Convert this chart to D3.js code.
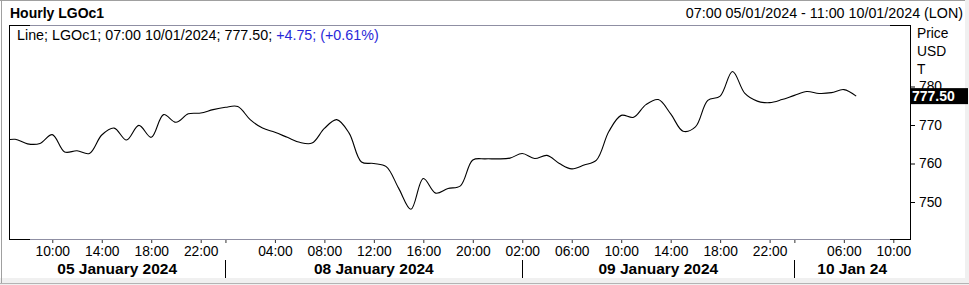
<!DOCTYPE html>
<html>
<head>
<meta charset="utf-8">
<script src="https://cdn.jsdelivr.net/npm/d3@7"></script>
<style>
  body { margin: 0; background: #fff; font-family: "Liberation Sans", Arial, sans-serif; }
  svg { display: block; }
</style>
</head>
<body>
<div id="chart"></div>
<script>
// ====================
// Data
// ====================
const instrument = "LGOc1";

// trading sessions: which hours have an hourly bar on each calendar day
const sessionDays  = ["2024-01-05", "2024-01-07", "2024-01-08", "2024-01-09", "2024-01-10"];
const sessionFirst = [6, 23, 0, 1, 1];
const sessionLast  = [22, 23, 22, 22, 11];

const viewStart = "2024-01-05 07:00";
const viewEnd   = "2024-01-10 11:00";

// hourly closes, 06:00 05/01 -> 07:00 10/01
const prices = [
  765.8, 766.3, 765.1, 765.2, 767.5, 763.0, 763.3, 762.6, 767.4, 769.2,
  766.1, 769.9, 766.8, 772.7, 770.7, 772.9, 773.1, 774.0, 774.6, 774.8,
  771.4, 769.2, 768.1, 766.8, 765.5, 765.3, 769.1, 771.4, 767.9, 760.4,
  760.0, 759.2, 753.6, 748.1, 756.1, 752.3, 753.5, 754.2, 760.9, 761.2,
  761.2, 761.4, 762.6, 761.3, 762.1, 760.0, 758.6, 759.6, 760.9, 768.3,
  772.5, 772.0, 775.3, 776.6, 772.9, 768.4, 769.5, 776.4, 777.5, 783.9,
  778.2, 776.2, 775.8, 776.6, 777.7, 778.7, 778.2, 778.4, 779.2, 777.5
];
const change    = 4.75;
const changePct = 0.61;

// x axis ticks
const tickTimes = [
  "2024-01-05 10:00", "2024-01-05 14:00", "2024-01-05 18:00", "2024-01-05 22:00",
  "2024-01-08 00:00", "2024-01-08 04:00", "2024-01-08 08:00", "2024-01-08 12:00",
  "2024-01-08 16:00", "2024-01-08 20:00",
  "2024-01-09 02:00", "2024-01-09 06:00", "2024-01-09 10:00", "2024-01-09 14:00",
  "2024-01-09 18:00", "2024-01-09 22:00",
  "2024-01-10 02:00", "2024-01-10 06:00", "2024-01-10 10:00"
];
const unlabelledTicks = ["2024-01-08 00:00", "2024-01-10 02:00"];
const dayDividers = ["2024-01-08 00:00", "2024-01-09 02:00", "2024-01-10 02:00"];
const dayLabels   = ["05 January 2024", "08 January 2024", "09 January 2024", "10 Jan 24"];

// y axis
const yTicks = [750, 760, 770, 780];
const yUnits = ["Price", "USD", "T"];

// ====================
// Build chart
// ====================
const width = 969, height = 285;
const plot = { left: 9, right: 910, top: 25, bottom: 239 };
const font = '"Liberation Sans", Arial, sans-serif';
const frameGrey = "#8f8fa3";

const pad2 = n => String(n).padStart(2, "0");
const bars = [];
sessionDays.forEach((day, i) => {
  for (let h = sessionFirst[i]; h <= sessionLast[i]; h++) bars.push(`${day} ${pad2(h)}:00`);
});
const barIndex = new Map(bars.map((b, i) => [b, i]));
const data = prices.map((p, i) => ({ time: bars[i], i, price: p }));

const svg = d3.select("#chart").append("svg")
  .attr("width", width)
  .attr("height", height)
  .style("font-family", font);

// window chrome
svg.append("rect").attr("x", 0).attr("y", 278).attr("width", width).attr("height", 7).attr("fill", "#f0f0f0");
svg.append("rect").attr("x", 965).attr("y", 0).attr("width", 4).attr("height", height).attr("fill", "#f0f0f0");
svg.append("line").attr("x1", 1.5).attr("x2", 1.5).attr("y1", 0).attr("y2", 283).attr("stroke", "#a0a0a0");
svg.append("line").attr("x1", 0).attr("x2", 965).attr("y1", 0.5).attr("y2", 0.5).attr("stroke", "#a0a0a0");
svg.append("line").attr("x1", 0).attr("x2", width).attr("y1", 283.5).attr("y2", 283.5).attr("stroke", "#b4b4b4");

// scales
const x = d3.scaleLinear()
  .domain([barIndex.get(viewStart) - 0.5, barIndex.get(viewEnd) + 0.35])
  .range([plot.left, plot.right]);

const y = d3.scaleLinear()
  .domain([750, 770])
  .range([202, 125]);

// header texts
svg.append("text")
  .attr("x", 10).attr("y", 18)
  .attr("font-size", 14).attr("font-weight", "bold")
  .text(`Hourly ${instrument}`);

svg.append("text")
  .attr("x", 963).attr("y", 18)
  .attr("text-anchor", "end")
  .attr("font-size", 14.3)
  .text("07:00 05/01/2024 - 11:00 10/01/2024 (LON)");

// frame: grey sides with black corners
const frame = svg.append("g").attr("shape-rendering", "crispEdges");
[plot.top, plot.bottom].forEach(yy => {
  frame.append("line").attr("x1", plot.left).attr("x2", plot.right).attr("y1", yy + 0.5).attr("y2", yy + 0.5)
    .attr("stroke", frameGrey);
  frame.append("line").attr("x1", plot.left).attr("x2", plot.left + 21).attr("y1", yy + 0.5).attr("y2", yy + 0.5)
    .attr("stroke", "#000");
  frame.append("line").attr("x1", plot.right - 20).attr("x2", plot.right + 1).attr("y1", yy + 0.5).attr("y2", yy + 0.5)
    .attr("stroke", "#000");
});
[plot.left, plot.right].forEach(xx => {
  frame.append("line").attr("x1", xx + 0.5).attr("x2", xx + 0.5).attr("y1", plot.top).attr("y2", plot.bottom + 1)
    .attr("stroke", "#000");
});

// legend line
const last = data[data.length - 1];
const [ld, lt] = last.time.split(" ");
const [yy, mm, dd] = ld.split("-");
const legend = svg.append("text")
  .attr("x", 17).attr("y", 40)
  .attr("font-size", 14.3);
legend.append("tspan").attr("fill", "#000")
  .text(`Line; ${instrument}; ${lt} ${dd}/${mm}/${yy}; ${last.price.toFixed(2)}; `);
legend.append("tspan").attr("fill", "#2828d8")
  .text(`+${change.toFixed(2)}; (+${changePct.toFixed(2)}%)`);

// price line
svg.append("clipPath").attr("id", "plot-clip")
  .append("rect")
  .attr("x", plot.left + 1).attr("y", plot.top + 1)
  .attr("width", plot.right - plot.left - 1).attr("height", plot.bottom - plot.top - 1);

const line = d3.line()
  .x(d => x(d.i))
  .y(d => y(d.price))
  .curve(d3.curveCatmullRom);

svg.append("path")
  .datum(data)
  .attr("clip-path", "url(#plot-clip)")
  .attr("fill", "none")
  .attr("stroke", "#000")
  .attr("stroke-width", 1.1)
  .attr("d", line);

// x axis (hour ticks)
const xAxis = d3.axisBottom(x)
  .tickValues(tickTimes.map(t => barIndex.get(t)))
  .tickSize(3)
  .tickPadding(3)
  .tickFormat((d, i) => unlabelledTicks.includes(tickTimes[i]) ? "" : tickTimes[i].slice(11));

const gx = svg.append("g")
  .attr("transform", `translate(0, ${plot.bottom + 1})`)
  .call(xAxis);
gx.select(".domain").remove();
gx.selectAll("line").attr("stroke", "#333");
gx.selectAll("text").attr("font-size", 13.8).attr("font-family", font).attr("fill", "#000");

// day row
const dividerX = dayDividers.map(t => x(barIndex.get(t)));
const edges = [plot.left, ...dividerX, plot.right];

svg.append("g").selectAll("line")
  .data(dividerX)
  .join("line")
  .attr("x1", d => Math.round(d) + 0.5).attr("x2", d => Math.round(d) + 0.5)
  .attr("y1", 260).attr("y2", 278)
  .attr("stroke", "#000");

svg.append("g").selectAll("text")
  .data(dayLabels)
  .join("text")
  .attr("x", (d, i) => (edges[i] + edges[i + 1]) / 2)
  .attr("y", 274)
  .attr("text-anchor", "middle")
  .attr("font-size", 15.5)
  .attr("font-weight", "bold")
  .text(d => d);

// y axis (right side)
const yAxis = d3.axisRight(y)
  .tickValues(yTicks)
  .tickSize(4)
  .tickPadding(4)
  .tickFormat(d3.format("d"));

const gy = svg.append("g")
  .attr("transform", `translate(${plot.right + 1}, 0)`)
  .call(yAxis);
gy.select(".domain").remove();
gy.selectAll("line").attr("stroke", "#000");
gy.selectAll("text").attr("font-size", 13.8).attr("font-family", font).attr("fill", "#000");

// unit labels
svg.append("g").selectAll("text")
  .data(yUnits)
  .join("text")
  .attr("x", 917)
  .attr("y", (d, i) => 38 + i * 18)
  .attr("font-size", 13.8)
  .text(d => d);

// last price marker (sits over the 780 tick label, as in the original)
const lastY = y(last.price);
svg.append("rect")
  .attr("x", plot.right + 1).attr("y", lastY - 8)
  .attr("width", 57).attr("height", 16)
  .attr("fill", "#000");
svg.append("text")
  .attr("x", plot.right + 2).attr("y", lastY)
  .attr("dy", "0.36em")
  .attr("font-size", 14)
  .attr("font-weight", "bold")
  .attr("fill", "#fff")
  .text(last.price.toFixed(2));
</script>
</body>
</html>
